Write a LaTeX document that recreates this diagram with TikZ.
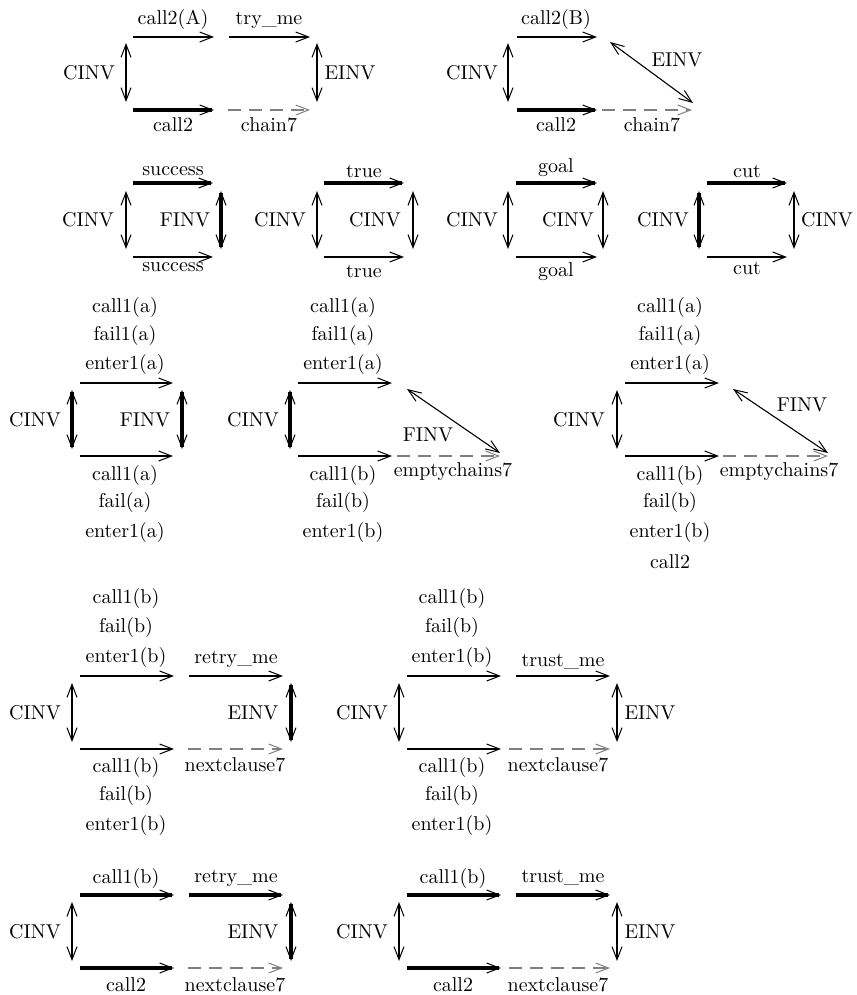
\documentclass[tikz,border=0pt]{standalone}
\usetikzlibrary{arrows.meta}
\begin{document}
\begin{tikzpicture}[x=0.5pt,y=-0.5pt,
  bb/.tip={Straight Barb[length=6.5pt,width=5pt,line width=0.5pt]},
  arr/.style={-bb},
  dbl/.style={bb-bb},
  med/.style={line width=1.15pt},
  thk/.style={line width=1.7pt},
  dsh/.style={-bb,line width=1.1pt,draw=black!50,dash pattern=on 6.5pt off 4pt},
  diag/.style={bb-bb,line width=0.55pt},
  lbl/.style={inner sep=0pt,font=\fontsize{10}{12}\selectfont}]
\useasboundingbox (0,0) rectangle (856,995);
% ---------- D1 ----------
\coordinate (d1a) at (133,37); \coordinate (d1b) at (214,37);
\coordinate (d1c) at (229,37); \coordinate (d1d) at (310,37);
\coordinate (d1e) at (133,110); \coordinate (d1f) at (214,110);
\coordinate (d1g) at (228,110); \coordinate (d1h) at (310,110);
\coordinate (d1i) at (126,43); \coordinate (d1j) at (126,102);
\coordinate (d1k) at (317,43); \coordinate (d1l) at (317,102);
\draw[arr,med] (d1a) -- (d1b);
\draw[arr,med] (d1c) -- (d1d);
\draw[arr,thk] (d1e) -- (d1f);
\draw[dsh] (d1g) -- (d1h);
\draw[dbl,med] (d1i) -- (d1j);
\draw[dbl,med] (d1k) -- (d1l);
\node[lbl] (d1t1) at (173,20) {call2(A)};
\node[lbl] (d1t2) at (269,20) {try\_me};
\node[lbl] (d1b1) at (173,125) {call2};
\node[lbl] (d1b2) at (269,125) {chain7};
\node[lbl] (d1l1) at (89,73) {CINV};
\node[lbl] (d1r1) at (350,73) {EINV};
% ---------- D2 ----------
\coordinate (d2a) at (517,37); \coordinate (d2b) at (597,37);
\coordinate (d2e) at (517,110); \coordinate (d2f) at (597,110);
\coordinate (d2g) at (602,110); \coordinate (d2h) at (692,110);
\coordinate (d2i) at (508,43); \coordinate (d2j) at (508,102);
\coordinate (d2k) at (610,42); \coordinate (d2l) at (693,103);
\draw[arr,med] (d2a) -- (d2b);
\draw[arr,thk] (d2e) -- (d2f);
\draw[dsh] (d2g) -- (d2h);
\draw[dbl,med] (d2i) -- (d2j);
\draw[diag] (d2k) -- (d2l);
\node[lbl] (d2t1) at (556,20) {call2(B)};
\node[lbl] (d2e1) at (677,60) {EINV};
\node[lbl] (d2l1) at (472,73) {CINV};
\node[lbl] (d2b1) at (556,125) {call2};
\node[lbl] (d2b2) at (652,125) {chain7};
% ---------- D3 ----------
\coordinate (d3a) at (133,183); \coordinate (d3b) at (213,183);
\coordinate (d3e) at (133,257); \coordinate (d3f) at (213,257);
\coordinate (d3i) at (126,191); \coordinate (d3j) at (126,249);
\coordinate (d3k) at (221,191); \coordinate (d3l) at (221,249);
\draw[arr,thk] (d3a) -- (d3b);
\draw[arr,med] (d3e) -- (d3f);
\draw[dbl,med] (d3i) -- (d3j);
\draw[dbl,thk] (d3k) -- (d3l);
\node[lbl] (d3t1) at (173,171) {success};
\node[lbl] (d3b1) at (173,267) {success};
\node[lbl] (d3l1) at (88,220) {CINV};
\node[lbl] (d3r1) at (185,220) {FINV};
% ---------- D4 ----------
\coordinate (d4a) at (324,183); \coordinate (d4b) at (404,183);
\coordinate (d4e) at (324,257); \coordinate (d4f) at (404,257);
\coordinate (d4i) at (317,191); \coordinate (d4j) at (317,249);
\coordinate (d4k) at (413,191); \coordinate (d4l) at (413,249);
\draw[arr,thk] (d4a) -- (d4b);
\draw[arr,med] (d4e) -- (d4f);
\draw[dbl,med] (d4i) -- (d4j);
\draw[dbl,med] (d4k) -- (d4l);
\node[lbl] (d4t1) at (364,171) {true};
\node[lbl] (d4b1) at (364,271) {true};
\node[lbl] (d4l1) at (280,220) {CINV};
\node[lbl] (d4r1) at (375,220) {CINV};
% ---------- D5 ----------
\coordinate (d5a) at (516,183); \coordinate (d5b) at (597,183);
\coordinate (d5e) at (516,257); \coordinate (d5f) at (597,257);
\coordinate (d5i) at (508,191); \coordinate (d5j) at (508,249);
\coordinate (d5k) at (603,191); \coordinate (d5l) at (603,249);
\draw[arr,thk] (d5a) -- (d5b);
\draw[arr,med] (d5e) -- (d5f);
\draw[dbl,med] (d5i) -- (d5j);
\draw[dbl,med] (d5k) -- (d5l);
\node[lbl] (d5t1) at (556,168) {goal};
\node[lbl] (d5b1) at (556,272) {goal};
\node[lbl] (d5l1) at (472,220) {CINV};
\node[lbl] (d5r1) at (568,220) {CINV};
% ---------- D6 ----------
\coordinate (d6a) at (707,183); \coordinate (d6b) at (787,183);
\coordinate (d6e) at (707,257); \coordinate (d6f) at (787,257);
\coordinate (d6i) at (699,191); \coordinate (d6j) at (699,249);
\coordinate (d6k) at (794,191); \coordinate (d6l) at (794,249);
\draw[arr,thk] (d6a) -- (d6b);
\draw[arr,med] (d6e) -- (d6f);
\draw[dbl,thk] (d6i) -- (d6j);
\draw[dbl,med] (d6k) -- (d6l);
\node[lbl] (d6t1) at (747,171) {cut};
\node[lbl] (d6b1) at (747,268) {cut};
\node[lbl] (d6l1) at (663,220) {CINV};
\node[lbl] (d6r1) at (827,220) {CINV};
% ---------- D7 ----------
\coordinate (d7a) at (80,383); \coordinate (d7b) at (173,383);
\coordinate (d7e) at (80,456); \coordinate (d7f) at (173,456);
\coordinate (d7i) at (72,390); \coordinate (d7j) at (72,449);
\coordinate (d7k) at (182,390); \coordinate (d7l) at (182,449);
\draw[arr,med] (d7a) -- (d7b);
\draw[arr,med] (d7e) -- (d7f);
\draw[dbl,thk] (d7i) -- (d7j);
\draw[dbl,thk] (d7k) -- (d7l);
\node[lbl] (d7t1) at (125,307) {call1(a)};
\node[lbl] (d7t2) at (125,335) {fail1(a)};
\node[lbl] (d7t3) at (125,364) {enter1(a)};
\node[lbl] (d7l1) at (35,420) {CINV};
\node[lbl] (d7r1) at (145,420) {FINV};
\node[lbl] (d7b1) at (125,475) {call1(a)};
\node[lbl] (d7b2) at (125,502) {fail(a)};
\node[lbl] (d7b3) at (125,532) {enter1(a)};
% ---------- D8 ----------
\coordinate (d8a) at (298,383); \coordinate (d8b) at (392,383);
\coordinate (d8e) at (298,456); \coordinate (d8f) at (392,456);
\coordinate (d8g) at (397,456); \coordinate (d8h) at (500,456);
\coordinate (d8i) at (290,390); \coordinate (d8j) at (290,449);
\coordinate (d8k) at (407,389); \coordinate (d8l) at (500,453);
\draw[arr,med] (d8a) -- (d8b);
\draw[arr,med] (d8e) -- (d8f);
\draw[dsh] (d8g) -- (d8h);
\draw[dbl,thk] (d8i) -- (d8j);
\draw[diag] (d8k) -- (d8l);
\node[lbl] (d8t1) at (343,307) {call1(a)};
\node[lbl] (d8t2) at (343,335) {fail1(a)};
\node[lbl] (d8t3) at (343,364) {enter1(a)};
\node[lbl] (d8l1) at (253,420) {CINV};
\node[lbl] (d8f1) at (428,435) {FINV};
\node[lbl] (d8e1) at (453,472) {emptychains7};
\node[lbl] (d8b1) at (343,475) {call1(b)};
\node[lbl] (d8b2) at (343,502) {fail(b)};
\node[lbl] (d8b3) at (343,532) {enter1(b)};
% ---------- D9 ----------
\coordinate (d9a) at (625,383); \coordinate (d9b) at (719,383);
\coordinate (d9e) at (625,456); \coordinate (d9f) at (719,456);
\coordinate (d9g) at (723,456); \coordinate (d9h) at (828,456);
\coordinate (d9i) at (617,390); \coordinate (d9j) at (617,449);
\coordinate (d9k) at (733,389); \coordinate (d9l) at (828,453);
\draw[arr,med] (d9a) -- (d9b);
\draw[arr,med] (d9e) -- (d9f);
\draw[dsh] (d9g) -- (d9h);
\draw[dbl,med] (d9i) -- (d9j);
\draw[diag] (d9k) -- (d9l);
\node[lbl] (d9t1) at (670,307) {call1(a)};
\node[lbl] (d9t2) at (670,335) {fail1(a)};
\node[lbl] (d9t3) at (670,364) {enter1(a)};
\node[lbl] (d9l1) at (579,420) {CINV};
\node[lbl] (d9f1) at (802,405) {FINV};
\node[lbl] (d9e1) at (779,472) {emptychains7};
\node[lbl] (d9b1) at (670,475) {call1(b)};
\node[lbl] (d9b2) at (670,502) {fail(b)};
\node[lbl] (d9b3) at (670,532) {enter1(b)};
\node[lbl] (d9b4) at (670,562) {call2};
% ---------- D10 ----------
\coordinate (dAa) at (80,676); \coordinate (dAb) at (174,676);
\coordinate (dAc) at (189,676); \coordinate (dAd) at (283,676);
\coordinate (dAe) at (80,749); \coordinate (dAf) at (174,749);
\coordinate (dAg) at (188,749); \coordinate (dAh) at (283,749);
\coordinate (dAi) at (72,683); \coordinate (dAj) at (72,742);
\coordinate (dAk) at (291,683); \coordinate (dAl) at (291,742);
\draw[arr,med] (dAa) -- (dAb);
\draw[arr,med] (dAc) -- (dAd);
\draw[arr,med] (dAe) -- (dAf);
\draw[dsh] (dAg) -- (dAh);
\draw[dbl,med] (dAi) -- (dAj);
\draw[dbl,thk] (dAk) -- (dAl);
\node[lbl] (dAt1) at (126,598) {call1(b)};
\node[lbl] (dAt2) at (126,627) {fail(b)};
\node[lbl] (dAt3) at (126,657) {enter1(b)};
\node[lbl] (dAt4) at (236,659) {retry\_me};
\node[lbl] (dAl1) at (35,713) {CINV};
\node[lbl] (dAr1) at (253,713) {EINV};
\node[lbl] (dAn1) at (235,765) {nextclause7};
\node[lbl] (dAb1) at (126,767) {call1(b)};
\node[lbl] (dAb2) at (126,795) {fail(b)};
\node[lbl] (dAb3) at (126,825) {enter1(b)};
% ---------- D11 ----------
\coordinate (dBa) at (407,676); \coordinate (dBb) at (501,676);
\coordinate (dBc) at (516,676); \coordinate (dBd) at (610,676);
\coordinate (dBe) at (407,749); \coordinate (dBf) at (501,749);
\coordinate (dBg) at (509,749); \coordinate (dBh) at (610,749);
\coordinate (dBi) at (399,683); \coordinate (dBj) at (399,742);
\coordinate (dBk) at (617,683); \coordinate (dBl) at (617,742);
\draw[arr,med] (dBa) -- (dBb);
\draw[arr,med] (dBc) -- (dBd);
\draw[arr,med] (dBe) -- (dBf);
\draw[dsh] (dBg) -- (dBh);
\draw[dbl,med] (dBi) -- (dBj);
\draw[dbl,med] (dBk) -- (dBl);
\node[lbl] (dBt1) at (452,598) {call1(b)};
\node[lbl] (dBt2) at (452,627) {fail(b)};
\node[lbl] (dBt3) at (452,657) {enter1(b)};
\node[lbl] (dBt4) at (563,662) {trust\_me};
\node[lbl] (dBl1) at (362,713) {CINV};
\node[lbl] (dBr1) at (650,713) {EINV};
\node[lbl] (dBn1) at (558,765) {nextclause7};
\node[lbl] (dBb1) at (452,767) {call1(b)};
\node[lbl] (dBb2) at (452,795) {fail(b)};
\node[lbl] (dBb3) at (452,825) {enter1(b)};
% ---------- D12 ----------
\coordinate (dCa) at (80,895); \coordinate (dCb) at (174,895);
\coordinate (dCc) at (189,895); \coordinate (dCd) at (283,895);
\coordinate (dCe) at (80,968); \coordinate (dCf) at (174,968);
\coordinate (dCg) at (188,968); \coordinate (dCh) at (283,968);
\coordinate (dCi) at (72,902); \coordinate (dCj) at (72,961);
\coordinate (dCk) at (291,902); \coordinate (dCl) at (291,961);
\draw[arr,thk] (dCa) -- (dCb);
\draw[arr,thk] (dCc) -- (dCd);
\draw[arr,thk] (dCe) -- (dCf);
\draw[dsh] (dCg) -- (dCh);
\draw[dbl,med] (dCi) -- (dCj);
\draw[dbl,thk] (dCk) -- (dCl);
\node[lbl] (dCt1) at (126,878) {call1(b)};
\node[lbl] (dCt2) at (236,878) {retry\_me};
\node[lbl] (dCl1) at (35,932) {CINV};
\node[lbl] (dCr1) at (253,932) {EINV};
\node[lbl] (dCb1) at (126,985) {call2};
\node[lbl] (dCb2) at (235,985) {nextclause7};
% ---------- D13 ----------
\coordinate (dDa) at (407,895); \coordinate (dDb) at (501,895);
\coordinate (dDc) at (516,895); \coordinate (dDd) at (610,895);
\coordinate (dDe) at (407,968); \coordinate (dDf) at (501,968);
\coordinate (dDg) at (509,968); \coordinate (dDh) at (610,968);
\coordinate (dDi) at (399,902); \coordinate (dDj) at (399,961);
\coordinate (dDk) at (617,902); \coordinate (dDl) at (617,961);
\draw[arr,thk] (dDa) -- (dDb);
\draw[arr,thk] (dDc) -- (dDd);
\draw[arr,thk] (dDe) -- (dDf);
\draw[dsh] (dDg) -- (dDh);
\draw[dbl,med] (dDi) -- (dDj);
\draw[dbl,med] (dDk) -- (dDl);
\node[lbl] (dDt1) at (453,878) {call1(b)};
\node[lbl] (dDt2) at (563,878) {trust\_me};
\node[lbl] (dDl1) at (362,932) {CINV};
\node[lbl] (dDr1) at (650,932) {EINV};
\node[lbl] (dDb1) at (453,985) {call2};
\node[lbl] (dDb2) at (558,985) {nextclause7};
\end{tikzpicture}
\end{document}
